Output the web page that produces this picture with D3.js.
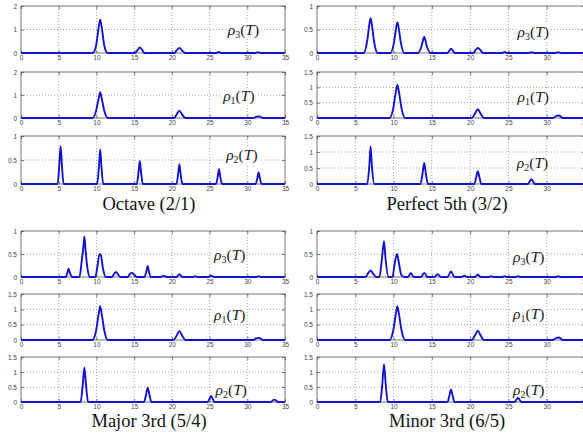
<!DOCTYPE html>
<html>
<head>
<meta charset="utf-8">
<script src="https://cdn.jsdelivr.net/npm/d3@7"></script>
<style>
  body { margin: 0; background: #fff; }
  svg { display: block; }
</style>
</head>
<body>
<div id="chart"></div>
<script>

var titles = ["Octave (2/1)", "Perfect 5th (3/2)", "Major 3rd (5/4)", "Minor 3rd (6/5)"];
var rowNames = ["3", "1", "2"];   // subscript of rho, top to bottom
var xTicks = [0, 5, 10, 15, 20, 25, 30, 35];

// y range of each subplot (top, middle, bottom) per interval
var octaveMax = [2, 2, 1];
var fifthMax = [1, 1.5, 1.5];
var majorMax = [1, 1.5, 1.5];
var minorMax = [1, 1.5, 1.5];

var yTicks2 = [0, 1, 2];
var yTicks1 = [0, 0.5, 1];
var yTicks15 = [0, 0.5, 1, 1.5];

// curves, [T, value] points
var octaveRho3 = [[0,0],[9.5,0],[9.95,0.3],[10.3,1.1],[10.5,1.42],[10.7,1.1],[11.05,0.3],[11.5,0],
  [15.1,0],[15.45,0.13],[15.75,0.24],[16.05,0.13],[16.4,0],
  [20.3,0],[20.65,0.12],[21.0,0.22],[21.35,0.11],[21.8,0],
  [25.8,0],[26.2,0.04],[26.6,0],
  [31.0,0],[31.4,0.03],[31.8,0],[35,0]];
var octaveRho1 = [[0,0],[9.5,0],[9.95,0.3],[10.3,0.85],[10.5,1.12],[10.7,0.85],[11.05,0.3],[11.5,0],
  [20.3,0],[20.65,0.16],[21.0,0.32],[21.35,0.16],[21.8,0],
  [30.8,0],[31.25,0.06],[31.6,0.07],[32.1,0],[35,0]];
var octaveRho2 = [[0,0],[4.85,0],[5.08,0.4],[5.25,0.79],[5.42,0.4],[5.65,0],
  [10.1,0],[10.33,0.36],[10.5,0.72],[10.67,0.36],[10.9,0],
  [15.35,0],[15.58,0.24],[15.75,0.48],[15.92,0.24],[16.15,0],
  [20.6,0],[20.83,0.2],[21.0,0.41],[21.17,0.2],[21.4,0],
  [25.85,0],[26.08,0.15],[26.25,0.31],[26.42,0.15],[26.65,0],
  [31.1,0],[31.33,0.12],[31.5,0.24],[31.67,0.12],[31.9,0],[35,0]];

var fifthRho3 = [[0,0],[6.1,0],[6.55,0.25],[6.85,0.62],[7.0,0.74],[7.15,0.62],[7.45,0.25],[7.9,0],
  [9.6,0],[10.05,0.22],[10.35,0.55],[10.5,0.65],[10.65,0.55],[10.95,0.22],[11.4,0],
  [13.2,0],[13.65,0.14],[14.0,0.34],[14.35,0.14],[14.8,0],
  [17.0,0],[17.3,0.05],[17.5,0.09],[17.75,0.05],[18.0,0],
  [20.4,0],[20.75,0.07],[21.0,0.11],[21.35,0.06],[21.7,0],
  [24.1,0],[24.5,0.02],[24.9,0],
  [27.6,0],[28.0,0.015],[28.4,0],
  [31.1,0],[31.5,0.015],[31.9,0],[35,0]];
var fifthRho1 = [[0,0],[9.5,0],[9.95,0.3],[10.3,0.85],[10.5,1.08],[10.7,0.85],[11.05,0.3],[11.5,0],
  [20.2,0],[20.65,0.15],[21.0,0.29],[21.35,0.15],[21.8,0],
  [30.8,0],[31.25,0.07],[31.6,0.08],[32.1,0],[35,0]];
var fifthRho2 = [[0,0],[6.55,0],[6.83,0.55],[7.0,1.17],[7.17,0.55],[7.5,0],
  [13.5,0],[13.78,0.32],[14.0,0.66],[14.22,0.32],[14.5,0],
  [20.55,0],[20.78,0.2],[21.0,0.4],[21.22,0.2],[21.45,0],
  [27.55,0],[27.78,0.08],[28.0,0.15],[28.22,0.08],[28.45,0],[35,0]];

var majorRho3 = [[0,0],[5.95,0],[6.15,0.1],[6.3,0.18],[6.5,0.08],[6.85,0],
  [7.75,0],[8.05,0.35],[8.3,0.7],[8.4,0.88],[8.55,0.6],[8.8,0.2],[9.15,0],
  [9.85,0],[10.15,0.25],[10.4,0.5],[10.6,0.47],[10.85,0.2],[11.25,0],
  [12.05,0],[12.35,0.07],[12.6,0.11],[12.85,0.06],[13.15,0],
  [14.15,0],[14.45,0.07],[14.7,0.09],[14.95,0.06],[15.35,0],
  [16.35,0],[16.62,0.12],[16.8,0.24],[16.98,0.1],[17.25,0],
  [18.5,0],[18.9,0.03],[19.3,0],
  [20.6,0],[21.0,0.06],[21.4,0],
  [22.8,0],[23.1,0.02],[23.4,0],
  [24.8,0],[25.2,0.03],[25.6,0],
  [31.2,0],[31.5,0.02],[31.8,0],[35,0]];
var majorRho1 = [[0,0],[9.5,0],[9.95,0.3],[10.3,0.85],[10.5,1.1],[10.7,0.85],[11.05,0.3],[11.5,0],
  [20.2,0],[20.65,0.15],[21.0,0.29],[21.35,0.15],[21.8,0],
  [30.8,0],[31.25,0.06],[31.6,0.07],[32.1,0],[35,0]];
var majorRho2 = [[0,0],[7.9,0],[8.18,0.55],[8.4,1.15],[8.62,0.55],[8.9,0],
  [16.3,0],[16.58,0.24],[16.8,0.48],[17.02,0.24],[17.3,0],
  [24.75,0],[24.98,0.1],[25.2,0.2],[25.42,0.1],[25.65,0],
  [33.15,0],[33.38,0.05],[33.6,0.08],[33.82,0.05],[34.05,0],[35,0]];

var minorRho3 = [[0,0],[6.3,0],[6.75,0.1],[7.0,0.14],[7.3,0.08],[7.75,0],
  [8.15,0],[8.45,0.35],[8.75,0.78],[8.95,0.4],[9.35,0],
  [9.85,0],[10.15,0.3],[10.45,0.5],[10.7,0.3],[11.0,0.05],[11.4,0],
  [11.85,0],[12.25,0.08],[12.65,0],
  [13.55,0],[14.0,0.09],[14.45,0],
  [15.3,0],[15.75,0.06],[16.2,0],
  [17.05,0],[17.5,0.12],[17.95,0],
  [18.85,0],[19.25,0.03],[19.65,0],
  [20.6,0],[21.0,0.05],[21.4,0],
  [22.4,0],[22.75,0.02],[23.1,0],
  [24.15,0],[24.5,0.02],[24.85,0],
  [25.9,0],[26.25,0.02],[26.6,0],
  [31.15,0],[31.5,0.02],[31.85,0],[35,0]];
var minorRho1 = [[0,0],[9.5,0],[9.95,0.3],[10.3,0.85],[10.5,1.1],[10.7,0.85],[11.05,0.3],[11.5,0],
  [20.2,0],[20.65,0.16],[21.0,0.3],[21.35,0.16],[21.8,0],
  [30.8,0],[31.25,0.07],[31.6,0.08],[32.1,0],[35,0]];
var minorRho2 = [[0,0],[8.25,0],[8.53,0.6],[8.75,1.26],[8.97,0.6],[9.25,0],
  [17.05,0],[17.28,0.2],[17.5,0.42],[17.72,0.2],[17.95,0],
  [25.8,0],[26.03,0.07],[26.25,0.14],[26.47,0.07],[26.7,0],
  [34.55,0],[34.8,0.04],[35,0.05]];

var groups = [
  { title: titles[0], max: octaveMax, series: [octaveRho3, octaveRho1, octaveRho2] },
  { title: titles[1], max: fifthMax,  series: [fifthRho3, fifthRho1, fifthRho2] },
  { title: titles[2], max: majorMax,  series: [majorRho3, majorRho1, majorRho2] },
  { title: titles[3], max: minorMax,  series: [minorRho3, minorRho1, minorRho2] }
];

// layout
var width = 583, height = 439;
var cols = [[21, 285], [317, 585]];
var rowTops = [[6, 72, 136], [231, 294, 357]];
var panelH = [[47, 46, 48], [46, 46, 45]];
var titleY = [210, 427];
// where the rho label sits, [T, value] of its left/middle
var labelPos = [
  [[27.4, 1.0], [26.8, 0.95], [27.2, 0.6]],
  [[26.2, 0.45], [26.2, 0.68], [26.1, 0.66]],
  [[25.6, 0.47], [25.6, 0.82], [25.8, 0.4]],
  [[25.6, 0.43], [25.6, 0.85], [25.6, 0.4]]
];

var svg = d3.select("#chart").append("svg")
  .attr("width", width)
  .attr("height", height);

groups.forEach(function(grp, gi) {
  var c = gi % 2, r = Math.floor(gi / 2);
  var x = d3.scaleLinear().domain([0, 35]).range(cols[c]);

  grp.series.forEach(function(data, pi) {
    var top = rowTops[r][pi];
    var h = panelH[r][pi];
    var ymax = grp.max[pi];
    var ticks = ymax == 2 ? yTicks2 : (ymax == 1 ? yTicks1 : yTicks15);
    var y = d3.scaleLinear().domain([0, ymax]).range([top + h, top]);
    var g = svg.append("g");

    // dotted grid
    g.selectAll(".vg").data(xTicks.slice(1, -1)).enter().append("line")
      .attr("x1", function(d) { return x(d); }).attr("x2", function(d) { return x(d); })
      .attr("y1", top).attr("y2", top + h)
      .attr("stroke", "#8a8a8a").attr("stroke-width", 0.8)
      .attr("stroke-dasharray", "1,2");
    g.selectAll(".hg").data(ticks.slice(1, -1)).enter().append("line")
      .attr("x1", cols[c][0]).attr("x2", cols[c][1])
      .attr("y1", function(d) { return y(d); }).attr("y2", function(d) { return y(d); })
      .attr("stroke", "#8a8a8a").attr("stroke-width", 0.8)
      .attr("stroke-dasharray", "1,2");

    // axes with inward ticks
    var xb = g.append("g").attr("transform", "translate(0," + (top + h) + ")")
      .call(d3.axisBottom(x).tickValues(xTicks).tickSize(-3).tickPadding(2).tickFormat(d3.format("d")));
    var xt = g.append("g").attr("transform", "translate(0," + top + ")")
      .call(d3.axisTop(x).tickValues(xTicks).tickSize(-3).tickFormat(""));
    var yl = g.append("g").attr("transform", "translate(" + cols[c][0] + ",0)")
      .call(d3.axisLeft(y).tickValues(ticks).tickSize(-3).tickPadding(4).tickFormat(d3.format("")));
    var yr = g.append("g").attr("transform", "translate(" + cols[c][1] + ",0)")
      .call(d3.axisRight(y).tickValues(ticks).tickSize(-3).tickFormat(""));
    [xb, xt, yl, yr].forEach(function(a) {
      a.select(".domain").remove();
      a.selectAll("line").attr("stroke", "#444").attr("stroke-width", 0.7);
      a.selectAll("text").attr("font-family", "Liberation Sans, Arial, sans-serif")
        .attr("font-size", 6.5).attr("fill", "#444");
    });

    // frame
    g.append("rect")
      .attr("x", cols[c][0]).attr("y", top)
      .attr("width", cols[c][1] - cols[c][0]).attr("height", h)
      .attr("fill", "none").attr("stroke", "#555").attr("stroke-width", 0.8);

    // rho label with white backing
    var lp = labelPos[gi][pi];
    var lab = g.append("text")
      .attr("x", x(lp[0])).attr("y", y(lp[1]) + 5)
      .attr("font-family", "Liberation Serif, Times New Roman, serif")
      .attr("font-size", 15.5).attr("fill", "#222");
    lab.append("tspan").attr("font-style", "italic").text("\u03c1");
    lab.append("tspan").attr("font-size", 10).attr("dy", 3).text(rowNames[pi]);
    lab.append("tspan").attr("dy", -3).text("(");
    lab.append("tspan").attr("font-style", "italic").text("T");
    lab.append("tspan").text(")");
    var bb = lab.node().getBBox();
    g.insert("rect", function() { return lab.node(); })
      .attr("x", bb.x - 1).attr("y", bb.y + 1)
      .attr("width", bb.width + 2).attr("height", bb.height - 2)
      .attr("fill", "#fff");

    // curve
    var line = d3.line()
      .x(function(d) { return x(d[0]); })
      .y(function(d) { return y(d[1]); })
      .curve(d3.curveMonotoneX);
    g.append("path").datum(data)
      .attr("d", line)
      .attr("fill", "none")
      .attr("stroke", "#1414c8")
      .attr("stroke-width", 1.9)
      .attr("stroke-linejoin", "round");
  });

  svg.append("text")
    .attr("x", (cols[c][0] + cols[c][1]) / 2 - 4)
    .attr("y", titleY[r])
    .attr("text-anchor", "middle")
    .attr("font-family", "Liberation Serif, Times New Roman, serif")
    .attr("font-size", 18.5)
    .attr("fill", "#111")
    .text(grp.title);
});

</script>
</body>
</html>
